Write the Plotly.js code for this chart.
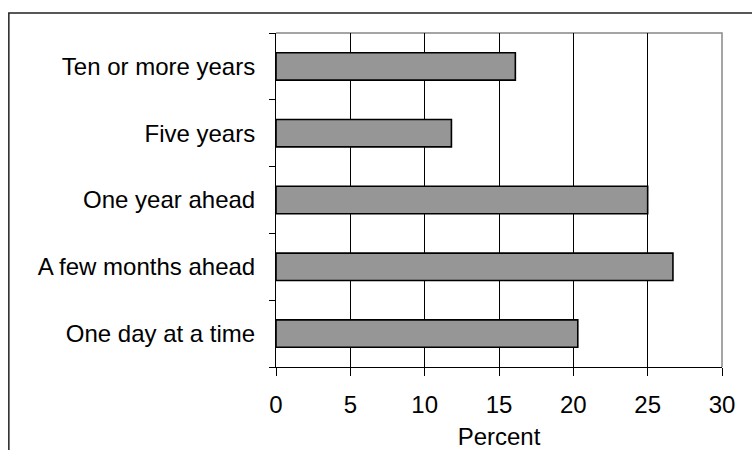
<!DOCTYPE html>
<html>
<head>
<meta charset="utf-8">
<script src="https://cdn.plot.ly/plotly-3.0.1.min.js"></script>
<style>
  html, body { margin: 0; padding: 0; background: #fff; }
  #chart { width: 752px; height: 450px; }
</style>
</head>
<body>
<div id="chart"></div>
<script>
// Planning horizon categories, bottom to top
const categories = [
  "One day at a time",
  "A few months ahead",
  "One year ahead",
  "Five years",
  "Ten or more years"
];
// Share of respondents, percent
const percentValues = [20.3, 26.7, 25.0, 11.8, 16.1];
const xTicks = [0, 5, 10, 15, 20, 25, 30];

const fontFamily = "Liberation Sans, Arial, sans-serif";

const trace = {
  type: "bar",
  orientation: "h",
  y: categories,
  x: percentValues,
  width: 0.41,
  marker: { color: "#969696", line: { color: "#000", width: 1.6 } },
  hoverinfo: "skip"
};

const layout = {
  width: 752,
  height: 450,
  margin: { l: 276, r: 30, t: 33, b: 83 },
  paper_bgcolor: "#fff",
  plot_bgcolor: "#fff",
  showlegend: false,
  font: { family: fontFamily, size: 24, color: "#000" },
  xaxis: {
    range: [0, 30],
    tickvals: xTicks,
    ticktext: xTicks.map(String),
    showgrid: true,
    gridcolor: "#000",
    gridwidth: 1,
    zeroline: false,
    showline: true,
    linecolor: "#000",
    linewidth: 1,
    ticks: "outside",
    ticklen: 8,
    tickcolor: "#000",
    tickwidth: 1,
    tickfont: { size: 24 },
    ticklabelstandoff: 8,
    title: { text: "Percent", font: { size: 24 }, standoff: 15 },
    fixedrange: true
  },
  yaxis: {
    type: "category",
    categoryorder: "array",
    categoryarray: categories,
    range: [-0.5, 4.5],
    showgrid: false,
    zeroline: false,
    showline: true,
    linecolor: "#000",
    linewidth: 1,
    ticks: "outside",
    tickson: "boundaries",
    ticklen: 6,
    tickcolor: "#000",
    tickwidth: 1,
    tickfont: { size: 24 },
    ticklabelstandoff: 15,
    fixedrange: true
  },
  shapes: [
    // gray frame on the top and right of the plotting area
    {
      type: "path", xref: "paper", yref: "paper",
      path: "M 0 1 L 1 1 L 1 0",
      line: { color: "#888", width: 1.5 },
      layer: "below"
    },
    // outer chart frame
    {
      type: "rect", xref: "paper", yref: "paper",
      x0: -0.599, x1: 1.2, y0: -0.4, y1: 1.06,
      line: { color: "#222", width: 1.5 },
      fillcolor: "rgba(0,0,0,0)"
    }
  ]
};

Plotly.newPlot("chart", [trace], layout, { staticPlot: true, displayModeBar: false });
</script>
</body>
</html>
